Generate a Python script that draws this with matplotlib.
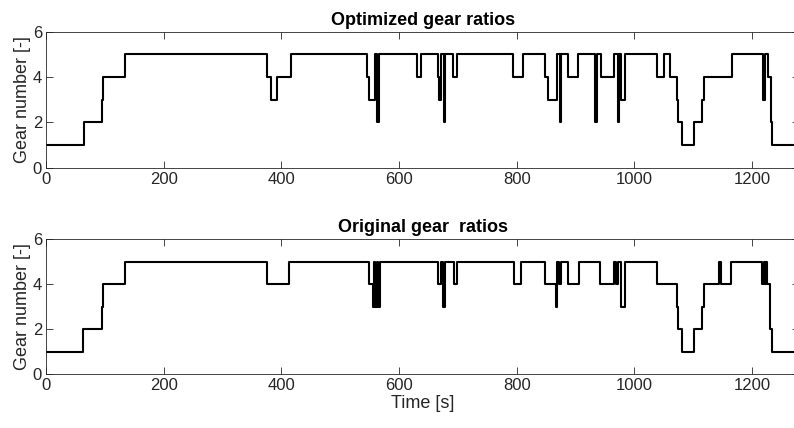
import matplotlib
matplotlib.use('Agg')
import matplotlib.pyplot as plt

plt.rcParams['font.family'] = ['Liberation Sans', 'DejaVu Sans']

# gear changes: time [s] where the gear starts, and the gear number
t_opt = [0, 64, 94, 97, 134, 375, 382, 392, 416, 546, 549, 559, 562, 565,
         631, 637, 666, 668, 672, 676, 678, 692, 699, 794, 811, 848, 854,
         868, 873, 875, 888, 905, 934, 936, 943, 966, 972, 974, 978, 984,
         1038, 1050, 1060, 1073, 1074, 1082, 1102, 1116, 1118, 1166, 1219,
         1222, 1227, 1232, 1235, 1280]
g_opt = [1, 2, 3, 4, 5, 4, 3, 4, 5, 4, 3, 5, 2, 5,
         4, 5, 4, 3, 5, 2, 5, 4, 5, 4, 5, 4, 3,
         5, 2, 5, 4, 5, 2, 5, 4, 5, 2, 5, 3, 5,
         4, 5, 4, 3, 2, 1, 2, 3, 4, 5, 3,
         5, 4, 2, 1, 1]

t_orig = [0, 63, 94, 97, 134, 375, 413, 548, 555, 557, 559, 562, 564, 567,
          667, 671, 675, 678, 693, 699, 795, 807, 848, 867, 869, 872, 876,
          888, 906, 942, 966, 969, 972, 978, 984, 1038, 1073, 1074, 1082,
          1102, 1116, 1118, 1144, 1148, 1165, 1218, 1220, 1222, 1224, 1226,
          1231, 1234, 1280]
g_orig = [1, 2, 3, 4, 5, 4, 5, 4, 3, 5, 3, 5, 3, 5,
          4, 5, 3, 5, 4, 5, 4, 5, 4, 3, 5, 4, 5,
          4, 5, 4, 5, 4, 5, 3, 5, 4, 3, 2, 1,
          2, 3, 4, 5, 4, 5, 4, 5, 4, 5, 4,
          2, 1, 1]

titles = ['Optimized gear ratios', 'Original gear  ratios']
xticks = [0, 200, 400, 600, 800, 1000, 1200]
yticks = [0, 2, 4, 6]

dark = '#262626'
fig = plt.figure(figsize=(7.94, 4.28), dpi=100)
ax1 = fig.add_axes([0.0583, 0.6082, 0.9479, 0.3178])
ax2 = fig.add_axes([0.0583, 0.1255, 0.9479, 0.3161])

for ax, t, g, title in [(ax1, t_opt, g_opt, titles[0]), (ax2, t_orig, g_orig, titles[1])]:
    ax.plot(t, g, drawstyle='steps-post', color='black', lw=1.5)
    ax.set_xlim(0, 1280)
    ax.set_ylim(0, 6)
    ax.set_xticks(xticks)
    ax.set_yticks(yticks)
    ax.tick_params(direction='in', length=5, width=0.6, top=True, right=True,
                   labelsize=12, colors=dark, pad=3)
    for s in ax.spines.values():
        s.set_color(dark)
        s.set_linewidth(0.6)
    ax.set_ylabel('Gear number [-]', fontsize=13, color=dark, labelpad=1)
    ax.set_title(title, fontsize=13, fontweight='bold', pad=5)

ax2.set_xlabel('Time [s]', fontsize=13, color=dark, labelpad=1)

fig.savefig('out.png', dpi=100)
